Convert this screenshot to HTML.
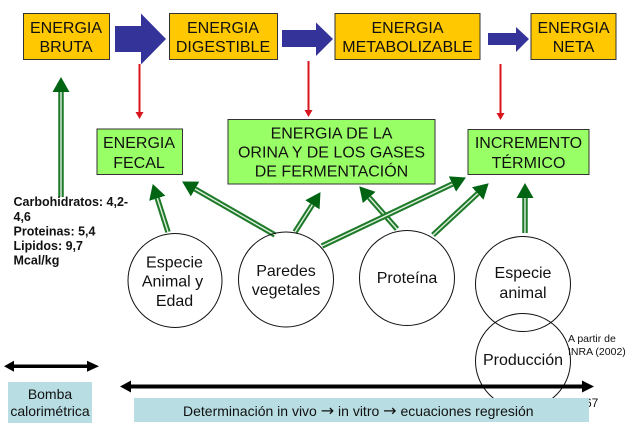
<!DOCTYPE html>
<html>
<head>
<meta charset="utf-8">
<style>
html,body{margin:0;padding:0;background:#fff;}
svg{display:block;filter:blur(.3px);}
text{font-family:"Liberation Sans",sans-serif;fill:#111;}
.c{text-anchor:middle;font-size:16px;}
.bx{stroke:#333;stroke-width:1;}
.g1{stroke:#1f7a2a;stroke-width:5.5;fill:none;}
.g2{stroke:#dff0df;stroke-width:1.4;fill:none;}
.circ{fill:none;stroke:#111;stroke-width:1;}
.b{font-size:12.5px;font-weight:bold;}
.ar{font-family:"DejaVu Sans",sans-serif;font-size:16px;}
</style>
</head>
<body>
<svg width="633" height="434" viewBox="0 0 633 434" xmlns="http://www.w3.org/2000/svg">
<defs>
<marker id="gh" markerUnits="userSpaceOnUse" markerWidth="17" markerHeight="19" refX="0" refY="8.5" orient="auto">
<polygon points="0,0 15,8.5 0,17" fill="#006412"/>
</marker>
</defs>
<rect width="633" height="434" fill="#fff"/>

<!-- top boxes -->
<rect class="bx" x="23.5" y="13.5" width="86" height="46" fill="#ffc800"/>
<rect class="bx" x="169.5" y="13.5" width="108" height="46" fill="#ffc800"/>
<rect class="bx" x="335" y="13.5" width="145" height="46" fill="#ffc800"/>
<rect class="bx" x="531" y="13.5" width="85" height="46" fill="#ffc800"/>
<text class="c" x="66" y="33">ENERGIA</text>
<text class="c" x="66" y="52">BRUTA</text>
<text class="c" x="223" y="33">ENERGIA</text>
<text class="c" x="223" y="52">DIGESTIBLE</text>
<text class="c" x="407.5" y="33">ENERGIA</text>
<text class="c" x="407.5" y="52">METABOLIZABLE</text>
<text class="c" x="573.5" y="33">ENERGIA</text>
<text class="c" x="573.5" y="52">NETA</text>

<!-- block arrows -->
<polygon points="115,26 141,26 141,13.5 166,39 141,64.5 141,52 115,52" fill="#333399"/>
<polygon points="282,30 316,30 316,22.5 333,39 316,56 316,47 282,47" fill="#333399"/>
<polygon points="488,33 516,33 516,27 529,39 516,52 516,45 488,45" fill="#333399"/>

<!-- red arrows -->
<g fill="#d8141c">
<rect x="138.5" y="64" width="2" height="49"/><polygon points="135.5,112 143.5,112 139.5,119"/>
<rect x="307.5" y="61" width="2" height="50"/><polygon points="304.5,110 312.5,110 308.5,117"/>
<rect x="499.5" y="64" width="2" height="50"/><polygon points="496.5,113 504.5,113 500.5,120"/>
</g>

<!-- green boxes -->
<rect class="bx" x="97" y="129" width="85.5" height="45.5" fill="#99ff66"/>
<rect class="bx" x="228" y="119.5" width="207" height="64.5" fill="#99ff66"/>
<rect class="bx" x="468" y="129.5" width="121" height="45" fill="#99ff66"/>
<text class="c" x="139" y="148">ENERGIA</text>
<text class="c" x="139" y="168">FECAL</text>
<text class="c" x="331.5" y="138.5">ENERGIA DE LA</text>
<text class="c" x="331.5" y="157.5">ORINA Y DE LOS GASES</text>
<text class="c" x="331.5" y="176.5">DE FERMENTACIÓN</text>
<text class="c" x="528.5" y="148">INCREMENTO</text>
<text class="c" x="528.5" y="168">TÉRMICO</text>

<!-- green arrows -->
<g>
<line class="g1" x1="61" y1="197" x2="61" y2="92" marker-end="url(#gh)"/><line class="g2" x1="61" y1="197" x2="61" y2="92"/>
<line class="g1" x1="168" y1="232" x2="157.3" y2="198.3" marker-end="url(#gh)"/><line class="g2" x1="168" y1="232" x2="157.3" y2="198.3"/>
<line class="g1" x1="275" y1="235" x2="195.1" y2="189" marker-end="url(#gh)"/><line class="g2" x1="275" y1="235" x2="195.1" y2="189"/>
<line class="g1" x1="295" y1="232" x2="312.4" y2="204.8" marker-end="url(#gh)"/><line class="g2" x1="295" y1="232" x2="312.4" y2="204.8"/>
<line class="g1" x1="397" y1="229" x2="369.2" y2="197.5" marker-end="url(#gh)"/><line class="g2" x1="397" y1="229" x2="369.2" y2="197.5"/>
<line class="g1" x1="322" y1="246" x2="452.4" y2="184" marker-end="url(#gh)"/><line class="g2" x1="322" y1="246" x2="452.4" y2="184"/>
<line class="g1" x1="433" y1="235" x2="477.7" y2="193.5" marker-end="url(#gh)"/><line class="g2" x1="433" y1="235" x2="477.7" y2="193.5"/>
<line class="g1" x1="525" y1="233" x2="525" y2="198" marker-end="url(#gh)"/><line class="g2" x1="525" y1="233" x2="525" y2="198"/>
</g>

<!-- left bold text -->
<text class="b" x="13.5" y="206">Carbohidratos: 4,2-</text>
<text class="b" x="13.5" y="221">4,6</text>
<text class="b" x="13.5" y="235.5">Proteinas: 5,4</text>
<text class="b" x="13.5" y="250">Lipidos: 9,7</text>
<text class="b" x="13.5" y="264.5">Mcal/kg</text>

<!-- circles -->
<circle class="circ" cx="175" cy="280.5" r="47"/>
<circle class="circ" cx="286" cy="279.5" r="47.5"/>
<circle class="circ" cx="407" cy="278" r="47.5"/>
<circle class="circ" cx="523" cy="284" r="47.5"/>
<circle class="circ" cx="523" cy="361" r="47.5"/>
<text class="c" x="174.5" y="267.5">Especie</text>
<text class="c" x="172.5" y="286.5">Animal y</text>
<text class="c" x="174.5" y="306">Edad</text>
<text class="c" x="286" y="276">Paredes</text>
<text class="c" x="286" y="295">vegetales</text>
<text class="c" x="407" y="283">Proteína</text>
<text class="c" x="523" y="278">Especie</text>
<text class="c" x="523" y="298">animal</text>
<text class="c" x="523" y="365">Producción</text>
<text x="568" y="342" font-size="10.5">A partir de</text>
<text x="568" y="355" font-size="10.5">INRA (2002)</text>

<!-- black arrows -->
<g fill="#000">
<rect x="12" y="364.5" width="78" height="3.5"/>
<polygon points="4,366.2 14,360.8 14,371.8"/>
<polygon points="99,366.2 87,360.8 87,371.8"/>
<rect x="128" y="384.5" width="458" height="4"/>
<polygon points="120,386.5 131,380.5 131,392.5"/>
<polygon points="594,386.5 582,380.5 582,392.5"/>
</g>

<!-- page number -->
<text x="585" y="407" font-size="12">67</text>

<!-- blue boxes -->
<rect x="8" y="382" width="84" height="41" fill="#b8dde2"/>
<rect x="134" y="398" width="455" height="24" fill="#b8dde2"/>
<text x="50" y="399" text-anchor="middle" font-size="14">Bomba</text>
<text x="50" y="416" text-anchor="middle" font-size="14">calorimétrica</text>
<text x="183" y="416" font-size="14">Determinación in vivo <tspan class="ar">→</tspan> in vitro <tspan class="ar">→</tspan> ecuaciones regresión</text>
</svg>
</body>
</html>
